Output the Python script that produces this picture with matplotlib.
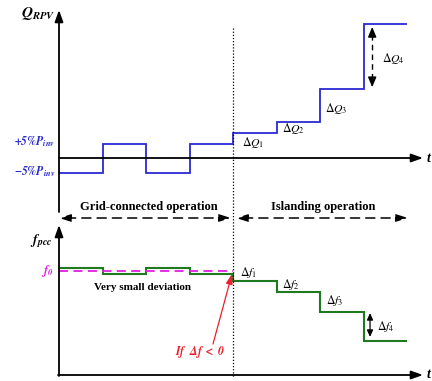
import matplotlib
matplotlib.use("Agg")
import matplotlib.pyplot as plt

plt.rcParams['font.family'] = ['Liberation Serif', 'DejaVu Serif']
plt.rcParams['mathtext.fontset'] = 'stix'

# step edges (time slots) and levels
t_edges = [0, 1, 2, 3, 4, 5, 6, 7, 8]
q_levels = [-5, 5, -5, 5, 8.6, 12.4, 23.8, 46.2]       # Q_RPV in % of P_inv
f_levels = [1, -1, 1, -1, -3.3, -7, -13.7, -23.3]     # f_pcc deviation from f0
q_labels = [r'$\Delta Q_1$', r'$\Delta Q_2$', r'$\Delta Q_3$', r'$\Delta Q_4$']
f_labels = [r'$\Delta f_1$', r'$\Delta f_2$', r'$\Delta f_3$', r'$\Delta f_4$']

blue = '#2a2ad2'
green = '#1f7a1f'
magenta = '#e01ee0'
red = '#e8202a'

W, H = 432, 381
fig = plt.figure(figsize=(W / 100, H / 100), dpi=100)

xl = (-59 / 43.5, (W - 59) / 43.5)

# top data axes (Q)
q_ax = fig.add_axes([0, (H - 195) / H, 1, 195 / H])
q_ax.set_xlim(*xl)
q_ax.set_ylim(-(195 - 158) / 2.9, 158 / 2.9)
q_ax.axis('off')
q_ax.stairs(q_levels, t_edges, baseline=None, color=blue, lw=1.3)

# bottom data axes (f)
f_ax = fig.add_axes([0, 0, 1, 186 / H])
f_ax.set_xlim(*xl)
f_ax.set_ylim(-(H - 271) / 3, (271 - 195) / 3)
f_ax.axis('off')
f_ax.hlines(0, t_edges[0], t_edges[4], colors=magenta, lw=1.3, linestyles=(0, (5, 3)))
f_ax.stairs(f_levels, t_edges, baseline=None, color=green, lw=1.5)

# delta arrows between last steps
xa = 7.2
top, bot = q_levels[7] - 1.0, q_levels[6] + 0.6
q_ax.plot([xa, xa], [bot + 3, top - 3], color='black', lw=1.0, linestyle=(0, (4, 3)))
head = dict(arrowstyle='-|>,head_length=0.6,head_width=0.25', color='black', lw=1.0,
            shrinkA=0, shrinkB=0)
q_ax.annotate('', xy=(xa, top), xytext=(xa, top - 3), arrowprops=head)
q_ax.annotate('', xy=(xa, bot), xytext=(xa, bot + 3), arrowprops=head)
f_ax.annotate('', xy=(7.15, f_levels[7] + 1.3), xytext=(7.15, f_levels[6] - 0.3),
              arrowprops=dict(arrowstyle='<|-|>,head_length=0.4,head_width=0.18',
                              color='black', lw=0.9, shrinkA=0, shrinkB=0))

# overlay in pixel units for axes, texts and annotations
lay = fig.add_axes([0, 0, 1, 1])
lay.set_xlim(0, W)
lay.set_ylim(H, 0)
lay.axis('off')
lay.patch.set_alpha(0)

ax_arrow = dict(arrowstyle='-|>,head_length=0.7,head_width=0.25', color='black', lw=1.3,
                shrinkA=0, shrinkB=0)
lay.annotate('', xy=(59, 10), xytext=(59, 212), arrowprops=ax_arrow)
lay.annotate('', xy=(423, 158), xytext=(59, 158), arrowprops=ax_arrow)
lay.annotate('', xy=(59, 225), xytext=(59, 376), arrowprops=ax_arrow)
lay.annotate('', xy=(423, 375), xytext=(58, 375), arrowprops=ax_arrow)
lay.text(427, 158, 't', fontsize=10, fontweight='bold', style='italic', va='center', ha='left')
lay.text(427, 375, 't', fontsize=10, fontweight='bold', style='italic', va='center', ha='left')

# switch instant
lay.plot([233, 233], [28, 378], color='black', lw=0.9, linestyle=(0, (1, 1.5)))

# operation arrows
op_arrow = dict(arrowstyle='<|-|>,head_length=0.7,head_width=0.22', color='black', lw=1.1,
                linestyle=(0, (6, 4)), shrinkA=0, shrinkB=0)
lay.annotate('', xy=(59, 218), xytext=(231, 218), arrowprops=op_arrow)
lay.annotate('', xy=(236, 218), xytext=(408, 218), arrowprops=op_arrow)
lay.text(149, 207, 'Grid-connected operation', fontsize=9, fontweight='bold', ha='center', va='center')
lay.text(323, 207, 'Islanding operation', fontsize=9, fontweight='bold', ha='center', va='center')

# axis labels
lay.text(55, 14, r'$\mathbfit{Q}_{\mathbfit{RPV}}$', fontsize=11, ha='right', va='center')
lay.text(55, 142, r'$\mathbfit{+5\%P}_{\mathbfit{inv}}$', fontsize=8.5, color=blue, ha='right', va='center')
lay.text(55, 172, r'$\mathbfit{-5\%P}_{\mathbfit{inv}}$', fontsize=8.5, color=blue, ha='right', va='center')
lay.text(52, 241, r'$\mathbfit{f}_{\mathbfit{pcc}}$', fontsize=10, ha='right', va='center')
lay.text(54, 271, r'$\mathbfit{f}_{\mathbfit{0}}$', fontsize=9, color=magenta, ha='right', va='center')

# step labels
for lab, (x, y) in zip(q_labels, [(242, 143), (282, 129), (325, 108), (382, 58)]):
    lay.text(x, y, lab, fontsize=8.5, ha='left', va='center')
for lab, (x, y) in zip(f_labels, [(240, 273), (282, 284), (326, 300), (377, 326)]):
    lay.text(x, y, lab, fontsize=8.5, ha='left', va='center')

lay.text(143, 287, 'Very small deviation', fontsize=8, fontweight='bold', ha='center', va='center')

# islanding trigger
lay.annotate('', xy=(232, 274), xytext=(213, 344),
             arrowprops=dict(arrowstyle='-|>,head_length=0.6,head_width=0.2', color=red, lw=0.9,
                             shrinkA=0, shrinkB=0))
lay.text(200, 352, r'$\mathbfit{If\ \ \Delta f\ <\ 0}$', fontsize=8.5, color=red, ha='center', va='center')

fig.savefig('out.png', dpi=100)
